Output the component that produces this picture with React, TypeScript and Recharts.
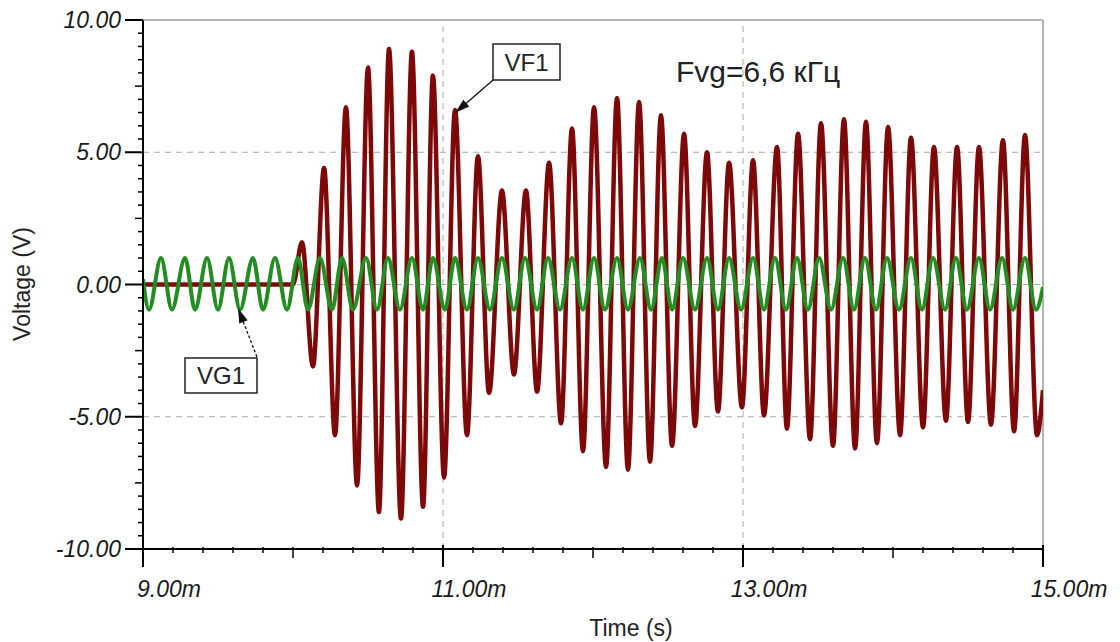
import React from "react";
import { LineChart, Line, XAxis, YAxis, ReferenceLine } from "recharts";

// time in ms, voltage in V
const redTime = [
  9.0, 10.0, 10.06, 10.133, 10.207, 10.28, 10.353, 10.427, 10.5, 10.573, 10.64,
  10.72, 10.793, 10.867, 10.933, 11.007, 11.08, 11.16, 11.233, 11.307, 11.393,
  11.473, 11.553, 11.627, 11.707, 11.787, 11.86, 11.933, 12.007, 12.087, 12.16,
  12.233, 12.307, 12.38, 12.453, 12.527, 12.607, 12.68, 12.76, 12.833, 12.907,
  12.993, 13.067, 13.14, 13.227, 13.293, 13.367, 13.447, 13.52, 13.6, 13.673,
  13.747, 13.82, 13.893, 13.967, 14.047, 14.12, 14.2, 14.273, 14.353, 14.427,
  14.5, 14.573, 14.653, 14.733, 14.807, 14.88, 14.96, 15.0,
];
const redVolt = [
  0, 0, 1.6, -3.1, 4.4, -5.7, 6.7, -7.6, 8.2, -8.6, 8.9,
  -8.85, 8.8, -8.4, 7.9, -7.3, 6.6, -5.7, 4.85, -4.1, 3.55,
  -3.4, 3.55, -4.05, 4.6, -5.25, 5.9, -6.3, 6.7, -6.9, 7.05,
  -7.0, 6.9, -6.7, 6.4, -6.1, 5.7, -5.35, 5.0, -4.8, 4.6,
  -4.65, 4.7, -4.95, 5.2, -5.45, 5.7, -5.85, 6.1, -6.1, 6.25,
  -6.2, 6.15, -6.0, 5.95, -5.7, 5.55, -5.4, 5.2, -5.15, 5.2,
  -5.2, 5.2, -5.3, 5.45, -5.55, 5.65, -5.7, -4.0,
];

const greenTime = [
  9.0, 9.04, 9.12, 9.193, 9.28, 9.347, 9.427, 9.5, 9.573, 9.647, 9.733,
  9.8, 9.88, 9.96, 10.033, 10.1, 10.18, 10.26, 10.327, 10.4, 10.487,
  10.56, 10.633, 10.713, 10.793, 10.867, 10.933, 11.013, 11.08, 11.16, 11.233,
  11.313, 11.393, 11.473, 11.547, 11.627, 11.7, 11.78, 11.86, 11.933, 12.007,
  12.08, 12.16, 12.233, 12.313, 12.387, 12.46, 12.527, 12.6, 12.68, 12.76,
  12.833, 12.907, 12.987, 13.067, 13.14, 13.213, 13.287, 13.36, 13.433, 13.507,
  13.587, 13.667, 13.74, 13.813, 13.887, 13.96, 14.04, 14.12, 14.193, 14.267,
  14.347, 14.42, 14.493, 14.573, 14.647, 14.727, 14.8, 14.88, 14.953, 15.0,
];
const greenVolt = [
  0.2, -0.95, 1.0, -0.95, 1.0, -0.95, 1.0, -0.95, 1.0, -0.95, 1.0,
  -0.95, 1.0, -0.95, 1.0, -0.95, 1.0, -0.95, 1.0, -0.95, 1.0,
  -0.95, 1.0, -0.95, 1.0, -0.95, 1.0, -0.95, 1.0, -0.95, 1.0,
  -0.95, 1.0, -0.95, 1.0, -0.95, 1.0, -0.95, 1.0, -0.95, 1.0,
  -0.95, 1.0, -0.95, 1.0, -0.95, 1.0, -0.95, 1.0, -0.95, 1.0,
  -0.95, 1.0, -0.95, 1.0, -0.95, 1.0, -0.95, 1.0, -0.95, 1.0,
  -0.95, 1.0, -0.95, 1.0, -0.95, 1.0, -0.95, 1.0, -0.95, 1.0,
  -0.95, 1.0, -0.95, 1.0, -0.95, 1.0, -0.95, 1.0, -0.95, -0.1,
];

const xTicks = [
  9, 9.2, 9.4, 9.6, 9.8, 10, 10.2, 10.4, 10.6, 10.8, 11, 11.2, 11.4, 11.6, 11.8,
  12, 12.2, 12.4, 12.6, 12.8, 13, 13.2, 13.4, 13.6, 13.8, 14, 14.2, 14.4, 14.6,
  14.8, 15,
];
const xLabelTicks = [9, 11, 13, 15];
const yTicks = [
  -10, -9.5, -9, -8.5, -8, -7.5, -7, -6.5, -6, -5.5, -5, -4.5, -4, -3.5, -3,
  -2.5, -2, -1.5, -1, -0.5, 0, 0.5, 1, 1.5, 2, 2.5, 3, 3.5, 4, 4.5, 5, 5.5, 6,
  6.5, 7, 7.5, 8, 8.5, 9, 9.5, 10,
];
const yLabelTicks = [-10, -5, 0, 5, 10];
const gridY = [5, 0, -5];
const gridX = [11, 13];

const FONT = '"Liberation Sans", Arial, sans-serif';

const redData = redTime.map((t, i) => ({ t, v: redVolt[i] }));
const greenData = greenTime.map((t, i) => ({ t, v: greenVolt[i] }));

const near = (a: number, b: number) => Math.abs(a - b) < 1e-6;

const XTick = ({ x, y, payload }: any) => {
  const v = payload.value;
  const major = xLabelTicks.some((t) => near(t, v));
  const mid = !major && near(v, Math.round(v));
  return (
    <g>
      <line
        x1={x}
        x2={x}
        y1={major ? y - 4 : y - 2}
        y2={y + (major ? 18 : mid ? 9 : 4)}
        stroke="#000"
        strokeWidth={major ? 2 : 1.5}
      />
      {major && (
        <text
          x={x + 26}
          y={y + 48}
          textAnchor="middle"
          fontFamily={FONT}
          fontStyle="italic"
          fontSize={23}
          fill="#1a1a1a"
        >
          {v.toFixed(2)}m
        </text>
      )}
    </g>
  );
};

const YTick = ({ x, y, payload }: any) => {
  const v = payload.value;
  const major = yLabelTicks.some((t) => near(t, v));
  const mid = !major && near(v / 2.5, Math.round(v / 2.5));
  return (
    <g>
      <line
        x1={x - (major ? 18 : mid ? 8 : 5)}
        x2={x + (major ? 0 : 1)}
        y1={y}
        y2={y}
        stroke="#000"
        strokeWidth={major ? 2 : 1.5}
      />
      {major && (
        <text
          x={x - 22}
          y={y + 8}
          textAnchor="end"
          fontFamily={FONT}
          fontStyle="italic"
          fontSize={23}
          fill="#1a1a1a"
        >
          {v.toFixed(2)}
        </text>
      )}
    </g>
  );
};

const arrowHead = (x1: number, y1: number, x2: number, y2: number, len = 15, half = 4.5) => {
  const dx = x2 - x1;
  const dy = y2 - y1;
  const d = Math.hypot(dx, dy);
  const ux = dx / d;
  const uy = dy / d;
  const bx = x2 - ux * len;
  const by = y2 - uy * len;
  return `${x2},${y2} ${bx - uy * half},${by + ux * half} ${bx + uy * half},${by - ux * half}`;
};

const Notes = () => (
  <svg
    width={1120}
    height={642}
    style={{ position: "absolute", left: 0, top: 0, pointerEvents: "none" }}
  >
    <text
      x={0}
      y={0}
      transform="translate(30,284) rotate(-90)"
      textAnchor="middle"
      fontFamily={FONT}
      fontSize={23}
      fill="#222"
    >
      Voltage (V)
    </text>
    <text x={631} y={636} textAnchor="middle" fontFamily={FONT} fontSize={23} fill="#222">
      Time (s)
    </text>
    <text x={676} y={82} fontFamily={FONT} fontSize={30} fill="#222">
      Fvg=6,6 кГц
    </text>

    <rect x={493} y={44} width={67} height={36} fill="#fff" stroke="#222" strokeWidth={1.5} />
    <text x={526.5} y={71} textAnchor="middle" fontFamily={FONT} fontSize={24} fill="#222">
      VF1
    </text>
    <line x1={493} y1={80} x2={462} y2={107} stroke="#111" strokeWidth={1.3} />
    <polygon points={arrowHead(493, 80, 455, 113)} fill="#111" />

    <rect x={185} y={358} width={72} height={35} fill="#fff" stroke="#222" strokeWidth={1.5} />
    <text x={221} y={384} textAnchor="middle" fontFamily={FONT} fontSize={24} fill="#222">
      VG1
    </text>
    <line
      x1={257}
      y1={357}
      x2={241}
      y2={316}
      stroke="#111"
      strokeWidth={1.3}
      strokeDasharray="3 2"
    />
    <polygon points={arrowHead(257, 357, 238, 308)} fill="#111" />
  </svg>
);

export default function App() {
  return (
    <div
      style={{
        position: "absolute",
        left: 0,
        top: 0,
        width: 1120,
        height: 642,
        background: "#fff",
      }}
    >
      <LineChart
        width={1120}
        height={642}
        margin={{ top: 20, right: 77, bottom: 0, left: 0 }}
      >
        <XAxis
          dataKey="t"
          type="number"
          domain={[9, 15]}
          ticks={xTicks}
          interval={0}
          allowDataOverflow
          height={93}
          tickSize={0}
          tickMargin={0}
          tickLine={false}
          tick={<XTick />}
          axisLine={{ stroke: "#000", strokeWidth: 2 }}
        />
        <YAxis
          type="number"
          domain={[-10, 10]}
          ticks={yTicks}
          interval={0}
          allowDataOverflow
          width={143}
          tickSize={0}
          tickMargin={0}
          tickLine={false}
          tick={<YTick />}
          axisLine={{ stroke: "#000", strokeWidth: 2 }}
        />
        {gridY.map((v) => (
          <ReferenceLine key={"gy" + v} y={v} stroke="#a8a8a8" strokeDasharray="6 5" />
        ))}
        {gridX.map((v) => (
          <ReferenceLine key={"gx" + v} x={v} stroke="#a8a8a8" strokeDasharray="6 5" />
        ))}
        <ReferenceLine y={10} stroke="#b4b4b4" strokeWidth={2} />
        <ReferenceLine x={15} stroke="#b4b4b4" strokeWidth={2} />
        <Line
          data={redData}
          dataKey="v"
          type="monotone"
          stroke="#7d0808"
          strokeWidth={4.5}
          dot={false}
          isAnimationActive={false}
        />
        <Line
          data={greenData}
          dataKey="v"
          type="monotone"
          stroke="#238c23"
          strokeWidth={4}
          dot={false}
          isAnimationActive={false}
        />
      </LineChart>
      <Notes />
    </div>
  );
}
